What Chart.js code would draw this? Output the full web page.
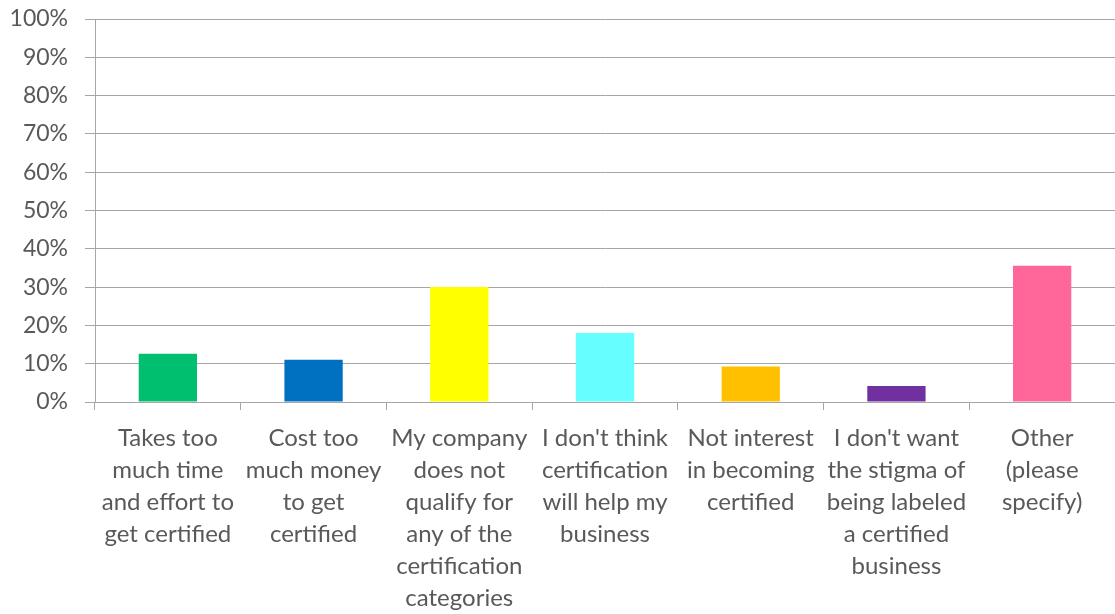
<!DOCTYPE html>
<html>
<head>
<meta charset="utf-8">
<script src="https://cdn.jsdelivr.net/npm/chart.js@4/dist/chart.umd.min.js"></script>
<style>
  html, body { margin: 0; padding: 0; background: #fff; }
  #wrap { width: 1115px; height: 614px; position: relative; }
</style>
</head>
<body>
<div id="wrap"><canvas id="chart"></canvas></div>
<script>
// survey answers: why not certified
const categories = [
    ['Takes too', 'much time', 'and effort to', 'get certified'],
    ['Cost too', 'much money', 'to get', 'certified'],
    ['My company', 'does not', 'qualify for', 'any of the', 'certification', 'categories'],
    ["I don't think", 'certification', 'will help my', 'business'],
    ['Not interest', 'in becoming', 'certified'],
    ["I don't want", 'the stigma of', 'being labeled', 'a certified', 'business'],
    ['Other', '(please', 'specify)']
];
const percentages = [12.6, 11.0, 30.0, 18.0, 9.3, 4.2, 35.6];
const barColors = ['#00BF6F', '#0070C0', '#FFFF00', '#66FFFF', '#FFC000', '#7030A0', '#FF6699'];

const textColor = '#595959';
const lineColor = '#a6a6a6';
const fontFamily = 'Lato, "Liberation Sans", sans-serif';

const ctx = document.getElementById('chart').getContext('2d');
new Chart(ctx, {
    type: 'bar',
    data: {
        labels: categories,
        datasets: [{
            data: percentages,
            backgroundColor: barColors,
            borderWidth: 0,
            barPercentage: 0.4,
            categoryPercentage: 1
        }]
    },
    options: {
        responsive: true,
        maintainAspectRatio: false,
        animation: false,
        layout: { padding: { top: 19, right: 0, left: 0, bottom: 0 } },
        plugins: {
            legend: { display: false },
            tooltip: { enabled: false }
        },
        scales: {
            x: {
                afterFit: function (axis) {
                    axis.height = 212;
                    axis.paddingLeft = 0;
                    axis.paddingRight = 0;
                },
                grid: {
                    drawOnChartArea: false,
                    drawTicks: true,
                    tickLength: 8,
                    color: lineColor,
                    offset: true
                },
                border: { color: lineColor, width: 1 },
                ticks: {
                    color: textColor,
                    padding: 12,
                    maxRotation: 0,
                    autoSkip: false,
                    font: { family: fontFamily, size: 24, lineHeight: 1.333 }
                }
            },
            y: {
                min: 0,
                max: 100,
                afterFit: function (axis) {
                    axis.width = 95;
                    axis.paddingTop = 0;
                    axis.paddingBottom = 0;
                },
                grid: {
                    color: lineColor,
                    lineWidth: 1,
                    tickLength: 10
                },
                border: { color: lineColor, width: 1 },
                ticks: {
                    stepSize: 10,
                    color: textColor,
                    padding: 17,
                    font: { family: fontFamily, size: 23 },
                    callback: function (value) { return value + '%'; }
                }
            }
        }
    }
});
</script>
</body>
</html>
